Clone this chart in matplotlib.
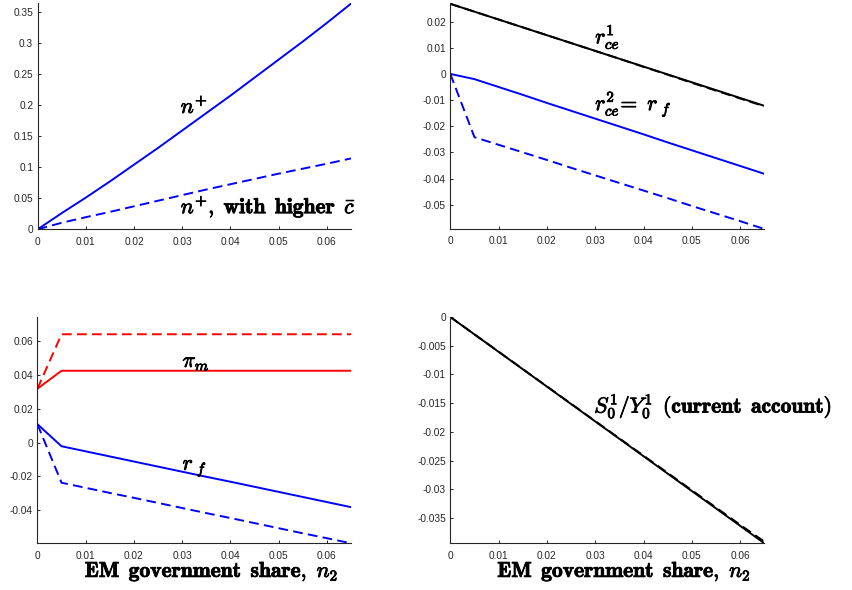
import numpy as np
import matplotlib
matplotlib.use("Agg")
import matplotlib.pyplot as plt
import matplotlib.patheffects as pe
from matplotlib.ticker import FixedLocator, FixedFormatter

plt.rcParams['mathtext.fontset'] = 'cm'
plt.rcParams['axes.unicode_minus'] = False
plt.rcParams['lines.scale_dashes'] = False
plt.rcParams['font.family'] = ['Liberation Sans', 'DejaVu Sans']

# ---- data ----
x = [0, 0.005, 0.01, 0.015, 0.02, 0.025, 0.03, 0.035, 0.04, 0.045, 0.05, 0.055, 0.06, 0.065]

n_plus = [0, 0.026, 0.051, 0.077, 0.104, 0.131, 0.159, 0.187, 0.215, 0.244, 0.273, 0.302, 0.332, 0.363]
n_plus_high_c = [0, 0.0105, 0.0195, 0.028, 0.037, 0.046, 0.055, 0.064, 0.0725, 0.081, 0.0895, 0.0975, 0.1055, 0.114]

rce1 = [0.0268, 0.0238, 0.0208, 0.0178, 0.0148, 0.0118, 0.0088, 0.0058, 0.0028, -0.0002, -0.0032, -0.0062, -0.0092, -0.0122]
rce1_high_c = [0.0268, 0.0238, 0.0208, 0.0178, 0.0148, 0.0118, 0.0088, 0.0058, 0.0027, -0.0003, -0.0034, -0.0064, -0.0094, -0.0124]
rce2 = [0, -0.0020, -0.0050, -0.0080, -0.0111, -0.0141, -0.0171, -0.0201, -0.0231, -0.0262, -0.0292, -0.0322, -0.0352, -0.0382]
rce2_high_c = [0, -0.0242, -0.0271, -0.0300, -0.0329, -0.0359, -0.0388, -0.0417, -0.0446, -0.0475, -0.0505, -0.0534, -0.0563, -0.0593]

pi_m = [0.0317, 0.0423, 0.0423, 0.0423, 0.0423, 0.0423, 0.0423, 0.0423, 0.0423, 0.0423, 0.0423, 0.0423, 0.0423, 0.0423]
pi_m_high_c = [0.0317, 0.0638, 0.0638, 0.0638, 0.0638, 0.0638, 0.0638, 0.0638, 0.0638, 0.0638, 0.0638, 0.0638, 0.0638, 0.0638]
r_f = [0.0108, -0.0022, -0.0052, -0.0082, -0.0112, -0.0142, -0.0172, -0.0202, -0.0231, -0.0261, -0.0291, -0.0321, -0.0351, -0.0381]
r_f_high_c = [0.0108, -0.0237, -0.0267, -0.0297, -0.0326, -0.0356, -0.0386, -0.0416, -0.0445, -0.0475, -0.0505, -0.0535, -0.0564, -0.0594]

ca = [0, -0.00303, -0.00606, -0.00909, -0.01212, -0.01515, -0.01818, -0.02121, -0.02424, -0.02727, -0.03030, -0.03333, -0.03636, -0.0394]
ca_high_c = [0, -0.00302, -0.00604, -0.00906, -0.01208, -0.01510, -0.01812, -0.02113, -0.02414, -0.02715, -0.03016, -0.03317, -0.03618, -0.0391]

xticks = [0, 0.01, 0.02, 0.03, 0.04, 0.05, 0.06]
yticks_1 = [0, 0.05, 0.1, 0.15, 0.2, 0.25, 0.3, 0.35]
yticks_2 = [-0.05, -0.04, -0.03, -0.02, -0.01, 0, 0.01, 0.02]
yticks_3 = [-0.04, -0.02, 0, 0.02, 0.04, 0.06]
yticks_4 = [-0.035, -0.03, -0.025, -0.02, -0.015, -0.01, -0.005, 0]

W, H = 853, 590
fig = plt.figure(figsize=(W / 100, H / 100), dpi=100)

def px_axes(l, r, t, b):
    return fig.add_axes([l / W, 1 - b / H, (r - l) / W, (b - t) / H])

ax1 = px_axes(37.6, 351.0, 3.3, 229.3)
ax2 = px_axes(450.3, 764.3, 3.3, 229.0)
ax3 = px_axes(37.4, 351.0, 317.3, 543.3)
ax4 = px_axes(450.3, 764.3, 317.0, 543.3)

axcol = '#262626'
lw = 1.4
dash = (0, (7.0, 3.8))

def fmt(v):
    return '%g' % round(v, 6)

def style(ax, yt, ylim):
    ax.set_xlim(0, 0.065)
    ax.set_ylim(*ylim)
    for s in ['top', 'right']:
        ax.spines[s].set_visible(False)
    for s in ['left', 'bottom']:
        ax.spines[s].set_color(axcol)
        ax.spines[s].set_linewidth(0.8)
    ax.xaxis.set_major_locator(FixedLocator(xticks))
    ax.xaxis.set_major_formatter(FixedFormatter([fmt(v) for v in xticks]))
    ax.yaxis.set_major_locator(FixedLocator(yt))
    ax.yaxis.set_major_formatter(FixedFormatter([fmt(v) for v in yt]))
    ax.tick_params(axis='both', direction='in', length=2.4, width=0.7,
                   colors=axcol, labelsize=7.3, labelcolor=axcol)
    ax.tick_params(axis='x', pad=5.2)
    ax.tick_params(axis='y', pad=3.2)

fx = [pe.withStroke(linewidth=0.6, foreground='black')]
tsize = 15.5
sp = r'\ \,'

# Panel 1
ax1.plot(x, n_plus, color='#0000ff', lw=lw)
ax1.plot(x, n_plus_high_c, color='#0000ff', lw=lw, ls=dash)
style(ax1, yticks_1, (0, 0.3635))
ax1.text(0.0297, 0.187, r'$n^{\mathbf{+}}$', fontsize=tsize, ha='left', va='baseline', path_effects=fx)
ax1.text(0.0297, 0.0257, r'$n^{\mathbf{+}}\mathbf{,}' + sp + r'\mathbf{with}' + sp + r'\mathbf{higher}' + sp + r'\bar{c}$',
         fontsize=tsize, ha='left', va='baseline', path_effects=fx, clip_on=False)

# Panel 2
ax2.plot(x, rce1, color='black', lw=lw)
ax2.plot(x, rce1_high_c, color='black', lw=lw, ls=dash)
ax2.plot(x, rce2, color='#0000ff', lw=lw)
ax2.plot(x, rce2_high_c, color='#0000ff', lw=lw, ls=dash)
style(ax2, yticks_2, (-0.0593, 0.0270))
ax2.text(0.0300, 0.0117, r'$r_{ce}^{\mathbf{1}}$', fontsize=tsize, ha='left', va='baseline', path_effects=fx)
ax2.text(0.0300, -0.0138, r'$r_{ce}^{\mathbf{2}}\!\mathbf{=}\ r_{\ f}$', fontsize=tsize,
         ha='left', va='baseline', path_effects=fx)

# Panel 3
ax3.plot(x, pi_m, color='#ff0000', lw=lw)
ax3.plot(x, pi_m_high_c, color='#ff0000', lw=lw, ls=dash)
ax3.plot(x, r_f, color='#0000ff', lw=lw)
ax3.plot(x, r_f_high_c, color='#0000ff', lw=lw, ls=dash)
style(ax3, yticks_3, (-0.0594, 0.0738))
ax3.text(0.0301, 0.0445, r'$\pi_m$', fontsize=tsize, ha='left', va='baseline', path_effects=fx)
ax3.text(0.0301, -0.0161, r'$r_{\ f}$', fontsize=tsize, ha='left', va='baseline', path_effects=fx)

# Panel 4
ax4.plot(x, ca, color='black', lw=lw)
ax4.plot(x, ca_high_c, color='black', lw=lw, ls=dash)
style(ax4, yticks_4, (-0.0394, 0.0))
ax4.text(0.0298, -0.01663,
         r'$S_{\mathbf{0}}^{\mathbf{1}}/Y_{\mathbf{0}}^{\mathbf{1}}' + sp + r'\mathbf{(current}' + sp + r'\mathbf{account)}$',
         fontsize=tsize, ha='left', va='baseline', path_effects=fx, clip_on=False)

# x labels
xlab = r'$\mathbf{EM}' + sp + r'\mathbf{government}' + sp + r'\mathbf{share,}\ n_{\mathbf{2}}$'
fig.text(211.5 / W, 1 - 577.0 / H, xlab, fontsize=tsize, ha='center', va='baseline', path_effects=fx)
fig.text(624.0 / W, 1 - 577.0 / H, xlab, fontsize=tsize, ha='center', va='baseline', path_effects=fx)

fig.savefig('out.png', dpi=100)
